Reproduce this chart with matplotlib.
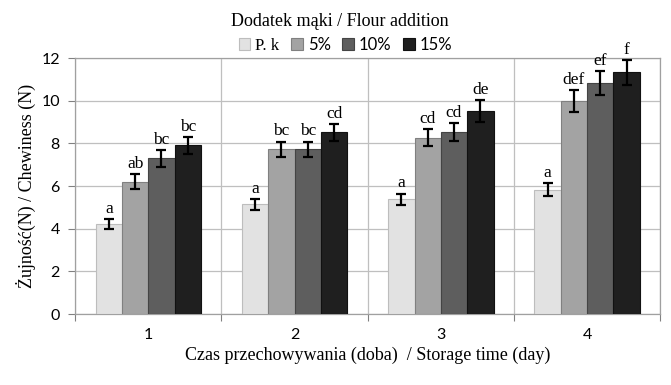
import numpy as np
import matplotlib.pyplot as plt

# data
days = ['1', '2', '3', '4']
groups = ['P. k', '5%', '10%', '15%']
pk = [4.22, 5.15, 5.38, 5.84]
f5 = [6.2, 7.72, 8.28, 9.98]
f10 = [7.3, 7.72, 8.52, 10.84]
f15 = [7.92, 8.52, 9.53, 11.33]
pk_err = [0.24, 0.25, 0.27, 0.31]
f5_err = [0.35, 0.37, 0.4, 0.52]
f10_err = [0.39, 0.37, 0.42, 0.57]
f15_err = [0.4, 0.4, 0.5, 0.57]
pk_lab = ['a', 'a', 'a', 'a']
f5_lab = ['ab', 'bc', 'cd', 'def']
f10_lab = ['bc', 'bc', 'cd', 'ef']
f15_lab = ['bc', 'cd', 'de', 'f']

values = [pk, f5, f10, f15]
errors = [pk_err, f5_err, f10_err, f15_err]
letters = [pk_lab, f5_lab, f10_lab, f15_lab]
colors = ['#e2e2e2', '#a3a3a3', '#5e5e5e', '#1f1f1f']
edges = ['#bdbdbd', '#808080', '#444444', '#111111']

serif = 'Liberation Serif'
sans = 'Lato'

fig = plt.figure(figsize=(6.71, 3.85), dpi=100)
ax = fig.add_axes([0.112, 0.184, 0.872, 0.665])

x = np.arange(len(days))
w = 0.18
for i in range(4):
    pos = x + (i - 1.5) * w
    ax.bar(pos, values[i], w, color=colors[i], edgecolor=edges[i], linewidth=0.8,
           zorder=3, label=groups[i])
    ax.errorbar(pos, values[i], yerr=errors[i], fmt='none', ecolor='black',
                elinewidth=1.6, capsize=3.5, capthick=1.6, zorder=4)
    for p, v, e, t in zip(pos, values[i], errors[i], letters[i]):
        ax.text(p, v + e + 0.1, t, ha='center', va='bottom', fontsize=12.5,
                family=serif, zorder=5)

ax.set_xlim(-0.5, 3.5)
ax.set_ylim(0, 12)
ax.set_yticks(range(0, 13, 2))
ax.set_xticks(np.arange(-0.5, 4, 1))
ax.set_xticklabels([])
ax.set_xticks(x, minor=True)
ax.set_xticklabels(days, minor=True, family=sans, fontsize=11.5)
ax.tick_params(axis='x', which='minor', length=0, pad=10)
ax.tick_params(axis='x', which='major', length=5, color='#808080')
ax.tick_params(axis='y', length=5, color='#808080', labelsize=11.5, pad=6)
for lbl in ax.get_yticklabels():
    lbl.set_family(sans)
ax.grid(True, axis='y', color='#bfbfbf', linewidth=0.9, zorder=0)
ax.grid(True, axis='x', which='major', color='#bfbfbf', linewidth=0.9, zorder=0)
for s in ax.spines.values():
    s.set_color('#a0a0a0')
    s.set_linewidth(0.9)

ax.set_xlabel('Czas przechowywania (doba)  / Storage time (day)', family=serif,
              fontsize=13, labelpad=3)
ax.set_ylabel('Żujność(N) / Chewiness (N)', family=serif, fontsize=13, labelpad=4)

fig.text(0.507, 0.945, 'Dodatek mąki / Flour addition', ha='center', va='center',
         family=serif, fontsize=13)
leg = fig.legend(loc='center', bbox_to_anchor=(0.515, 0.883), ncol=4, frameon=False,
                 handlelength=0.7, handleheight=0.7, handletextpad=0.3,
                 columnspacing=0.7, prop={'family': sans, 'size': 12})
leg.get_texts()[0].set_family(serif)

fig.savefig('out.png', dpi=100)
